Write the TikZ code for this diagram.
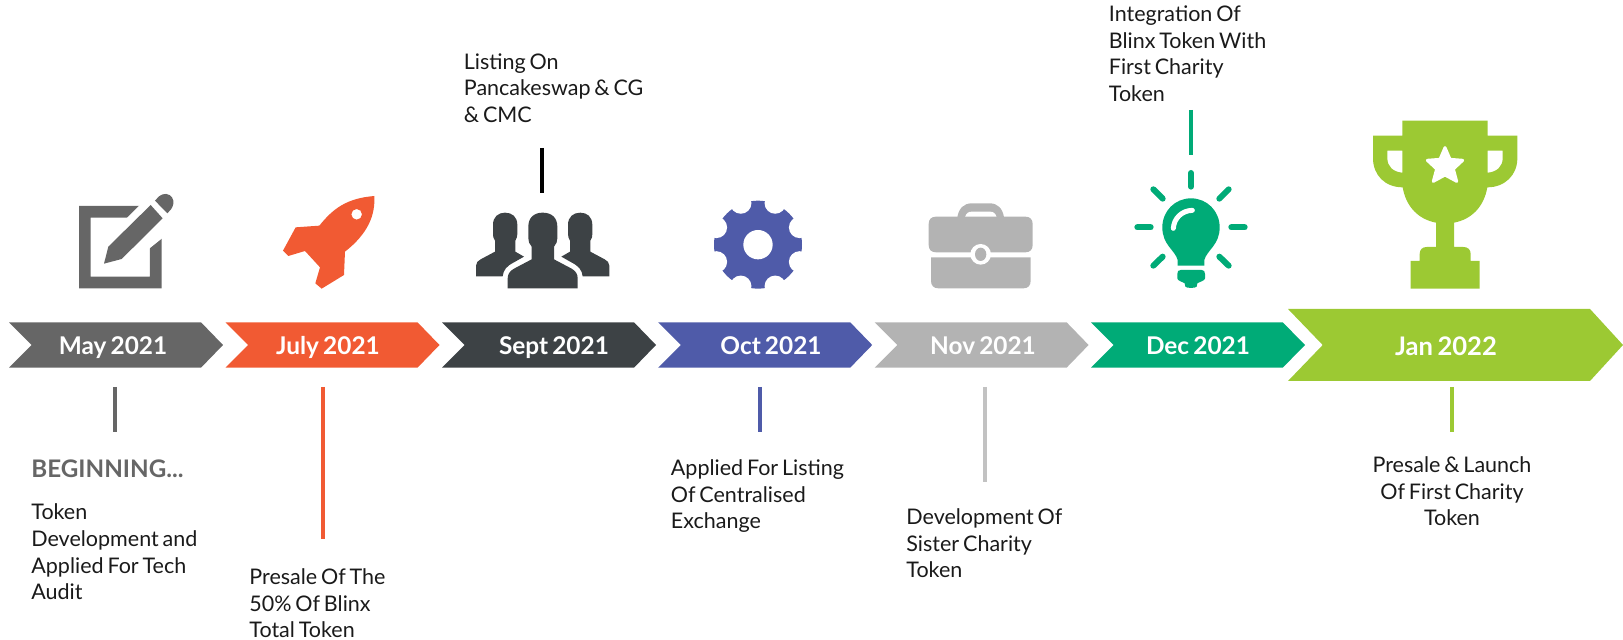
\documentclass[tikz,border=0pt]{standalone}
\usepackage{fontspec}
\setmainfont{Lato}[WordSpace=0.7]
\definecolor{cgray}{HTML}{666666}
\definecolor{corange}{HTML}{F15A33}
\definecolor{cdark}{HTML}{3D4245}
\definecolor{cblue}{HTML}{4F5BA9}
\definecolor{clight}{HTML}{B3B3B3}
\definecolor{cgreen}{HTML}{00AB77}
\definecolor{clime}{HTML}{9CC933}
\definecolor{cink}{HTML}{1A1A1A}
\tikzset{
  chevlabel/.style={text=white,font=\fontsize{12.2}{14}\selectfont\bfseries,inner sep=0pt,anchor=base},
  body/.style={text=cink,font=\fontsize{10.75}{13.35}\selectfont,inner sep=0pt,align=left,anchor=base west},
  stem/.style={line width=2pt},
  zoomed/.style={scale=1/3},
  ray/.style={line width=3pt,line cap=round,cgreen},
}
\newcommand{\chev}[7]{% color, left, notch, shoulder, tip, top, bottom
  \fill[#1] (#2,#6) -- (#4,#6) -- (#5,{(#6+#7)/2}) -- (#4,#7) -- (#2,#7) -- (#3,{(#6+#7)/2}) -- cycle;}
\begin{document}
\begin{tikzpicture}[x=0.5pt,y=-0.5pt]
\useasboundingbox (0,0) rectangle (1623,640);

% chevrons
\chev{cgray}{9}{31.7}{201}{223}{322.3}{367.7}
\chev{corange}{225.5}{248.2}{417.5}{439.5}{322.3}{367.7}
\chev{cdark}{442}{464.7}{634}{656}{322.3}{367.7}
\chev{cblue}{658.2}{680.9}{850.2}{872.2}{322.3}{367.7}
\chev{clight}{874.6}{897.3}{1066.6}{1088.6}{322.3}{367.7}
\chev{cgreen}{1091}{1113.7}{1282.7}{1305}{322.3}{367.7}
\chev{clime}{1288}{1322.7}{1590}{1623}{309}{381}

\node[chevlabel] (m1) at (113,355) {May 2021};
\node[chevlabel] (m2) at (328,355) {July 2021};
\node[chevlabel] (m3) at (554,355) {Sept 2021};
\node[chevlabel] (m4) at (771,355) {Oct 2021};
\node[chevlabel] (m5) at (983,355) {Nov 2021};
\node[chevlabel] (m6) at (1198,355) {Dec 2021};
\node[chevlabel,font=\fontsize{12.8}{14}\selectfont\bfseries] (m7) at (1446,355.5) {Jan 2022};

% stems
\coordinate (s1a) at (115,387); \coordinate (s1b) at (115,432);
\coordinate (s2a) at (323,387); \coordinate (s2b) at (323,539);
\coordinate (s3a) at (542.3,148); \coordinate (s3b) at (542.3,193);
\coordinate (s4a) at (760,387); \coordinate (s4b) at (760,432);
\coordinate (s5a) at (985,387); \coordinate (s5b) at (985,482);
\coordinate (s6a) at (1191,110); \coordinate (s6b) at (1191,155);
\coordinate (s7a) at (1452,387); \coordinate (s7b) at (1452,432);
\draw[stem,cgray] (s1a) -- (s1b);
\draw[stem,corange] (s2a) -- (s2b);
\draw[stem,black] (s3a) -- (s3b);
\draw[stem,cblue] (s4a) -- (s4b);
\draw[stem,clight!80!white] (s5a) -- (s5b);
\draw[stem,cgreen] (s6a) -- (s6b);
\draw[stem,clime] (s7a) -- (s7b);

% texts
\node[body,text=cgray,font=\fontsize{12.1}{13.35}\selectfont\bfseries] (t0) at (31,477.5) {BEGINNING...};
\node[body] (t1) at (31,600) {Token\\Development and\\Applied For Tech\\Audit};
\node[body] (t2) at (249,638) {Presale Of The\\50\% Of Blinx\\Total Token};
\node[body] (t3) at (463.5,122.7) {Listing On\\Pancakeswap \& CG\\\& CMC};
\node[body] (t4) at (670.5,529) {Applied For Listing\\Of Centralised\\Exchange};
\node[body] (t5) at (906,578) {Development Of\\Sister Charity\\Token};
\node[body] (t6) at (1108.5,101.7) {Integration Of\\Blinx Token With\\First Charity\\Token};
\node[body,align=center,anchor=base] (t7) at (1452,526) {Presale \& Launch\\Of First Charity\\Token};

% pencil icon
\begin{scope}[shift={(40,170)},zoomed]
  \fill[cgray,even odd rule] (117,108) rectangle (365,355) (152,143) rectangle (330,320);
  \fill[white] (180,300) -- (190,215) -- (320,85) -- (410,170) -- (260,290) -- cycle;
  \fill[white] (300,145) -- (365,80) -- (420,80) -- (420,170) -- (365,170) -- (365,172) -- (330,205) -- (330,175) -- cycle;
  \fill[cgray] (192,281) -- (205,230) -- (332,105) -- (368,145) -- (245,267) -- cycle;
  \fill[cgray] (345,92) -- (357,79) .. controls (370,68) and (388,70) .. (396,82) .. controls (404,95) and (400,108) .. (393,118) -- (382,130) -- cycle;
\end{scope}

% rocket icon
\begin{scope}[shift={(40,170)},zoomed]
  \fill[corange,even odd rule] (1003,78) .. controls (1006,135) and (985,190) .. (915,245) -- (912,315) -- (845,356) -- (826,340) -- (840,292) -- (795,243) -- (745,258) -- (729,242) -- (767,172) -- (838,167) .. controls (880,115) and (920,85) .. (1003,78) -- cycle
  (950,133) circle (16);
\end{scope}

% people icon
\begin{scope}[shift={(440,170)},zoomed]
  \fill[cdark] (108,319) -- (108,287) .. controls (108,278) and (114,272) .. (122,268) -- (165,245) -- (165,212) .. controls (160,205) and (159,200) .. (159,192) -- (159,165) .. controls (159,140) and (175,128) .. (195,128) .. controls (216,128) and (232,140) .. (232,165) -- (232,192) .. controls (232,200) and (230,205) .. (226,212) -- (226,245) -- (252,260) -- (222,277) .. controls (200,288) and (190,300) .. (188,319) -- cycle;
  \fill[cdark] (508,319) -- (508,287) .. controls (508,278) and (502,272) .. (494,268) -- (451,245) -- (451,212) .. controls (456,205) and (457,200) .. (457,192) -- (457,165) .. controls (457,140) and (441,128) .. (421,128) .. controls (400,128) and (384,140) .. (384,165) -- (384,192) .. controls (384,200) and (386,205) .. (390,212) -- (390,245) -- (364,260) -- (394,277) .. controls (416,288) and (426,300) .. (428,319) -- cycle;
  \fill[cdark] (203,355) -- (203,325) .. controls (203,312) and (210,303) .. (222,296) -- (275,268) -- (275,230) .. controls (268,222) and (265,215) .. (265,205) -- (265,170) .. controls (265,143) and (282,128) .. (308,128) .. controls (335,128) and (352,143) .. (352,170) -- (352,205) .. controls (352,215) and (349,222) .. (342,230) -- (342,268) -- (395,296) .. controls (407,303) and (413,312) .. (413,325) -- (413,355) -- cycle;
\end{scope}

% gear icon
\begin{scope}[shift={(440,170)},zoomed]
  \fill[cblue] (954,224) circle (132);
  \foreach \a in {22.5,67.5,...,337.5}
    \fill[white] (954,224) ++(\a:135) circle (32);
  \fill[white] (954,224) circle (44);
\end{scope}

% briefcase icon
\begin{scope}[shift={(880,100)},zoomed]
  \fill[clight] (232,352) .. controls (236,325) and (252,310) .. (275,310) -- (330,310) .. controls (352,310) and (368,325) .. (372,352) -- cycle;
  \fill[white] (255,352) .. controls (258,340) and (265,335) .. (275,335) -- (330,335) .. controls (340,335) and (347,340) .. (350,352) -- cycle;
  \fill[clight] (168,350) -- (436,350) .. controls (450,350) and (458,358) .. (458,372) -- (458,435) .. controls (458,449) and (450,457) .. (436,457) -- (168,457) .. controls (154,457) and (146,449) .. (146,435) -- (146,372) .. controls (146,358) and (154,350) .. (168,350) -- cycle;
  \fill[clight] (153,472) -- (452,472) -- (452,542) .. controls (452,557) and (444,565) .. (430,565) -- (175,565) .. controls (161,565) and (153,557) .. (153,542) -- cycle;
  \fill[white] (302,463) circle (31);
  \fill[clight] (302,463) ellipse (17 and 20);
\end{scope}

% bulb icon
\begin{scope}[shift={(880,100)},zoomed]
  \fill[cgreen] (893,497) -- (893,480) .. controls (885,450) and (847,435) .. (847,382) .. controls (847,333) and (885,295) .. (933,295) .. controls (981,295) and (1019,333) .. (1019,382) .. controls (1019,435) and (981,450) .. (973,480) -- (973,497) -- cycle;
  \fill[cgreen] (902,510) -- (965,510) .. controls (972,510) and (975,514) .. (975,522) -- (975,535) .. controls (975,542) and (960,545) .. (952,550) -- (950,560) .. controls (948,565) and (918,565) .. (916,560) -- (914,550) .. controls (906,545) and (892,542) .. (892,535) -- (892,522) .. controls (892,514) and (895,510) .. (902,510) -- cycle;
  \draw[white,line width=2.5pt,line cap=round] (880,385) .. controls (882,355) and (905,332) .. (937,331);
  \draw[ray] (933,219) -- (933,260);
  \draw[ray] (820,268) -- (848,296);
  \draw[ray] (772,382) -- (812,382);
  \draw[ray] (820,497) -- (848,470);
  \draw[ray] (1046,268) -- (1018,296);
  \draw[ray] (1094,382) -- (1054,382);
  \draw[ray] (1046,497) -- (1018,470);
\end{scope}

% trophy icon
\begin{scope}[shift={(1230,100)},zoomed]
  \fill[clime,even odd rule] (517,62) -- (773,62) -- (773,107) -- (862,107) -- (862,175) .. controls (862,225) and (825,262) .. (772,262) .. controls (762,320) and (725,358) .. (672,368) -- (672,441) -- (700,441) .. controls (714,441) and (722,449) .. (722,462) -- (722,483) -- (749,483) -- (749,566) -- (542,566) -- (542,483) -- (569,483) -- (569,462) .. controls (569,449) and (577,441) .. (590,441) -- (618,441) -- (618,368) .. controls (565,358) and (528,320) .. (518,262) .. controls (465,262) and (429,225) .. (429,175) -- (429,107) -- (517,107) -- cycle
  (472,152) -- (517,152) -- (517,218) .. controls (490,216) and (472,200) .. (472,175) -- cycle
  (818,152) -- (773,152) -- (773,218) .. controls (800,216) and (818,200) .. (818,175) -- cycle;
  \fill[white,draw=white,line width=1.5pt,line join=round]
    (645,143) -- (660,178) -- (698,181) -- (670,207) -- (680,244) -- (645,225) -- (610,244) -- (620,207) -- (592,181) -- (630,178) -- cycle;
\end{scope}
\end{tikzpicture}
\end{document}
